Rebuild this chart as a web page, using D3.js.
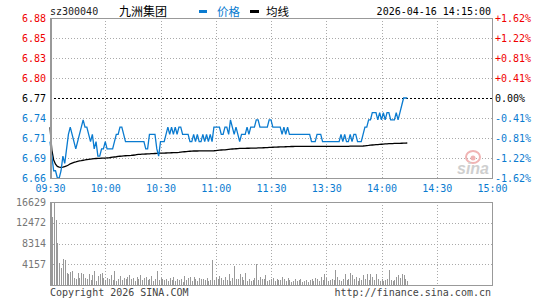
<!DOCTYPE html>
<html><head><meta charset="utf-8">
<script src="https://cdn.jsdelivr.net/npm/d3@7"></script>
<style>
html,body{margin:0;padding:0;background:#fff;}
svg{display:block;}
text{font-family:"DejaVu Sans Mono","Liberation Mono",monospace;font-size:10px;}
</style></head><body>
<svg id="c" width="545" height="300"></svg>
<script>
const symbol = "sz300040";
const stockName = "九洲集团";
const timestamp = "2026-04-16 14:15:00";
const prevClose = 6.77;
const priceSpan = 0.11;
const legendLabels = ["价格", "均线"];
const timeLabels = ["09:30","10:00","10:30","11:00","11:30","13:30","14:00","14:30","15:00"];
const priceLabels = ["6.88","6.85","6.83","6.80","6.77","6.74","6.71","6.69","6.66"];
const pctLabels = ["+1.62%","+1.22%","+0.81%","+0.41%","0.00%","-0.41%","-0.81%","-1.22%","-1.62%"];
const volTicks = [16629, 12472, 8314, 4157];

const price = [
6.71,6.69,6.67,6.67,6.66,6.66,6.67,6.69,6.68,6.70,
6.72,6.73,6.72,6.71,6.70,6.71,6.72,6.73,6.74,6.73,
6.73,6.72,6.71,6.72,6.70,6.71,6.69,6.69,6.70,6.70,
6.71,6.70,6.70,6.70,6.70,6.71,6.72,6.72,6.73,6.73,
6.72,6.71,6.71,6.71,6.71,6.71,6.71,6.71,6.71,6.71,
6.71,6.71,6.70,6.70,6.72,6.72,6.72,6.72,6.70,6.69,
6.71,6.71,6.71,6.72,6.73,6.72,6.73,6.72,6.73,6.72,
6.73,6.73,6.72,6.72,6.72,6.72,6.71,6.71,6.72,6.71,
6.72,6.71,6.71,6.72,6.71,6.72,6.71,6.72,6.71,6.73,
6.73,6.73,6.73,6.72,6.72,6.73,6.73,6.72,6.74,6.73,
6.72,6.73,6.72,6.71,6.72,6.72,6.72,6.73,6.72,6.73,
6.73,6.73,6.74,6.74,6.73,6.73,6.73,6.73,6.73,6.74,
6.74,6.73,6.73,6.73,6.73,6.73,6.72,6.73,6.72,6.73,
6.72,6.72,6.72,6.72,6.72,6.72,6.72,6.72,6.72,6.72,
6.72,6.72,6.71,6.71,6.71,6.72,6.72,6.72,6.71,6.71,
6.71,6.71,6.71,6.71,6.71,6.71,6.71,6.71,6.72,6.71,
6.72,6.71,6.71,6.72,6.71,6.72,6.72,6.71,6.71,6.71,
6.72,6.73,6.73,6.74,6.74,6.75,6.75,6.75,6.74,6.75,
6.74,6.75,6.74,6.75,6.75,6.74,6.74,6.74,6.75,6.74,
6.75,6.76,6.77,6.77,6.77
];

const avgPrice = [
6.7297,6.6985,6.6848,6.6790,6.6760,6.6750,6.6747,6.6750,6.6758,6.6765,
6.6778,6.6795,6.6805,6.6815,6.6822,6.6830,6.6834,6.6838,6.6844,6.6848,
6.6853,6.6857,6.6860,6.6863,6.6866,6.6868,6.6869,6.6870,6.6872,6.6873,
6.6874,6.6876,6.6878,6.6882,6.6886,6.6889,6.6892,6.6896,6.6899,6.6902,
6.6904,6.6906,6.6907,6.6908,6.6910,6.6913,6.6916,6.6920,6.6924,6.6926,
6.6928,6.6929,6.6930,6.6931,6.6932,6.6934,6.6935,6.6937,6.6938,6.6940,
6.6941,6.6942,6.6943,6.6944,6.6945,6.6946,6.6947,6.6948,6.6948,6.6950,
6.6952,6.6955,6.6958,6.6961,6.6964,6.6966,6.6968,6.6970,6.6971,6.6971,
6.6971,6.6972,6.6972,6.6972,6.6972,6.6973,6.6973,6.6973,6.6974,6.6975,
6.6977,6.6980,6.6983,6.6985,6.6986,6.6988,6.6991,6.6994,6.6997,6.6999,
6.7000,6.7002,6.7004,6.7006,6.7007,6.7008,6.7008,6.7009,6.7009,6.7010,
6.7010,6.7011,6.7012,6.7013,6.7014,6.7015,6.7016,6.7017,6.7019,6.7021,
6.7022,6.7023,6.7024,6.7025,6.7026,6.7027,6.7028,6.7029,6.7030,6.7031,
6.7032,6.7033,6.7033,6.7034,6.7034,6.7034,6.7035,6.7035,6.7035,6.7035,
6.7035,6.7035,6.7035,6.7035,6.7036,6.7036,6.7036,6.7036,6.7036,6.7036,
6.7036,6.7036,6.7036,6.7036,6.7036,6.7036,6.7036,6.7036,6.7036,6.7036,
6.7036,6.7036,6.7036,6.7037,6.7037,6.7037,6.7037,6.7038,6.7038,6.7039,
6.7040,6.7042,6.7045,6.7048,6.7052,6.7054,6.7056,6.7058,6.7060,6.7062,
6.7064,6.7066,6.7068,6.7070,6.7072,6.7073,6.7074,6.7075,6.7076,6.7076,
6.7077,6.7078,6.7079,6.7080,6.7081
];

const volume = [
1600,13600,16500,13000,8500,4400,3500,5300,5000,2400,
2200,2600,2800,1400,1200,2500,1500,2400,2200,1500,
1300,2300,1100,2100,2900,900,1800,2200,2400,1500,
1000,1400,1200,2000,1100,2800,900,1300,1900,1000,
1400,1200,1700,2000,1300,1500,900,1600,1200,2100,
1100,1400,1700,1000,1300,1900,800,1200,2800,1000,
1500,1200,1000,1300,800,1400,1100,1600,900,1200,
1000,1300,700,1800,1100,1400,1600,900,1700,1200,
800,1400,1300,1200,1000,1500,900,1100,5000,1000,
1600,1200,1900,1400,1000,1600,1100,2200,900,1400,
3800,1300,1200,2200,1600,1000,2400,800,1200,900,
1100,1400,4200,1000,1700,1200,1300,2000,900,1000,
1200,1500,900,1300,1100,1000,1700,1200,900,1400,
1100,700,900,1200,800,1000,1300,700,900,1100,
600,1000,1300,800,1500,1200,900,1600,1000,2200,
1400,900,1100,1300,1000,3000,1600,1100,800,1300,
2200,1000,1300,2500,2000,1200,1700,900,1500,1100,
2000,1300,2200,1100,2200,1700,1000,2200,1300,900,
1200,800,1000,1300,3000,1000,900,1100,1600,2100,
1500,2200,2000,1200,900
];

const BLUE = "#0a7bd0", RED = "#f00000", GRID = "#aaaaaa", BORDER = "#999999";
const L = 50, R = 492, T = 18, B = 178, VT = 202, VB = 285;

const svg = d3.select("#c");
const x = d3.scaleLinear().domain([0, 240]).range([L, R]);
const y = d3.scaleLinear().domain([prevClose - priceSpan, prevClose + priceSpan]).range([B, T]);
const yv = d3.scaleLinear().domain([0, volTicks[0]]).range([VB, VT]);
const px = v => Math.round(v) + 0.5;

const priceTicks = priceLabels.map((_, i) => y.domain()[1] - i * (2 * priceSpan) / (priceLabels.length - 1));
const timeTicks = timeLabels.map((_, i) => i * 30);

// price grid
const g = svg.append("g").attr("shape-rendering", "crispEdges");
priceTicks.forEach((v, i) => {
  if (i === 0 || i === priceTicks.length - 1) return;
  g.append("line").attr("x1", L).attr("x2", R).attr("y1", px(y(v))).attr("y2", px(y(v)))
    .attr("stroke", i === 4 ? "#000" : GRID).attr("stroke-dasharray", i === 4 ? "2,2" : "1,2");
});
timeTicks.forEach((t, i) => {
  if (i === 0 || i === timeTicks.length - 1) return;
  g.append("line").attr("x1", px(x(t))).attr("x2", px(x(t))).attr("y1", T).attr("y2", B)
    .attr("stroke", GRID).attr("stroke-dasharray", "1,2");
  g.append("line").attr("x1", px(x(t))).attr("x2", px(x(t))).attr("y1", VT).attr("y2", VB)
    .attr("stroke", GRID).attr("stroke-dasharray", "1,2");
});
volTicks.forEach((v, i) => {
  if (i === 0) return;
  g.append("line").attr("x1", L).attr("x2", R).attr("y1", px(yv(v))).attr("y2", px(yv(v)))
    .attr("stroke", GRID).attr("stroke-dasharray", "1,2");
});

// watermark
const wm = svg.append("g");
wm.append("ellipse").attr("cx", 473).attr("cy", 157).attr("rx", 7).attr("ry", 6)
  .attr("fill", "none").attr("stroke", "#f0b4b4").attr("stroke-width", 2);
wm.append("circle").attr("cx", 473).attr("cy", 158).attr("r", 2.5).attr("fill", "#f0b4b4");
wm.append("text").attr("x", 457).attr("y", 174).text("sina")
  .style("font-family", "'Liberation Sans',Arial,sans-serif").style("font-size", "16px")
  .style("font-weight", "bold").style("font-style", "italic").attr("fill", "#cfcfcf");

// volume bars
svg.append("g").attr("shape-rendering", "crispEdges").selectAll("rect").data(volume).join("rect")
  .attr("x", (d, i) => Math.round(x(i))).attr("width", 1)
  .attr("y", d => yv(d)).attr("height", d => VB - yv(d)).attr("fill", "#999");

// lines
svg.append("path").datum(avgPrice).attr("fill", "none").attr("stroke", "#000").attr("stroke-width", 1.3)
  .attr("d", d3.line().x((d, i) => x(i)).y(d => y(d)));
svg.append("path").datum(price).attr("fill", "none").attr("stroke", BLUE).attr("stroke-width", 1.3)
  .attr("d", d3.line().x((d, i) => x(i)).y(d => y(d)));

// borders
const bd = svg.append("g").attr("shape-rendering", "crispEdges").attr("fill", "none").attr("stroke", BORDER);
bd.append("rect").attr("x", L + 0.5).attr("y", T + 0.5).attr("width", R - L).attr("height", B - T);
bd.append("rect").attr("x", L + 0.5).attr("y", VT + 0.5).attr("width", R - L).attr("height", VB - VT);
bd.append("line").attr("x1", L + 1.5).attr("x2", L + 1.5).attr("y1", T).attr("y2", B + 1);
bd.append("line").attr("x1", L + 1.5).attr("x2", L + 1.5).attr("y1", VT).attr("y2", VB + 1);

// axis labels
const colorFor = i => i < 4 ? RED : (i === 4 ? "#000" : BLUE);
const axL = svg.append("g").attr("transform", `translate(${L - 4},0)`)
  .call(d3.axisLeft(y).tickValues(priceTicks).tickFormat((d, i) => priceLabels[i]).tickSize(0).tickPadding(0));
axL.select(".domain").remove();
axL.selectAll("text").attr("fill", (d, i) => colorFor(i)).style("font-size", "10px").style("font-family", "'DejaVu Sans Mono',monospace");

const axR = svg.append("g").attr("transform", `translate(${R + 3},0)`)
  .call(d3.axisRight(y).tickValues(priceTicks).tickFormat((d, i) => pctLabels[i]).tickSize(0).tickPadding(0));
axR.select(".domain").remove();
axR.selectAll("text").attr("fill", (d, i) => colorFor(i)).style("font-size", "10px").style("font-family", "'DejaVu Sans Mono',monospace");

const axB = svg.append("g").attr("transform", `translate(0,${B + 7})`)
  .call(d3.axisBottom(x).tickValues(timeTicks).tickFormat((d, i) => timeLabels[i]).tickSize(0).tickPadding(0));
axB.select(".domain").remove();
axB.selectAll("text").attr("fill", BLUE).style("font-size", "10px").style("font-family", "'DejaVu Sans Mono',monospace");

const axV = svg.append("g").attr("transform", `translate(${L - 4},0)`)
  .call(d3.axisLeft(yv).tickValues(volTicks).tickFormat(d3.format("d")).tickSize(0).tickPadding(0));
axV.select(".domain").remove();
axV.selectAll("text").attr("fill", "#777").style("font-size", "10px").style("font-family", "'DejaVu Sans Mono',monospace");

// header
svg.append("text").attr("x", L).attr("y", 15).text(symbol).attr("fill", "#222");
svg.append("text").attr("x", 119).attr("y", 16).text(stockName)
  .style("font-family", "'Noto Sans CJK SC',sans-serif").style("font-size", "12px").attr("fill", "#000");
svg.append("rect").attr("x", 199).attr("y", 10).attr("width", 8).attr("height", 3).attr("fill", BLUE);
svg.append("text").attr("x", 217).attr("y", 16).text(legendLabels[0])
  .style("font-family", "'Noto Sans CJK SC',sans-serif").style("font-size", "11.5px").attr("fill", BLUE);
svg.append("rect").attr("x", 250).attr("y", 10).attr("width", 9).attr("height", 3).attr("fill", "#000");
svg.append("text").attr("x", 266).attr("y", 16).text(legendLabels[1])
  .style("font-family", "'Noto Sans CJK SC',sans-serif").style("font-size", "11.5px").attr("fill", "#000");
svg.append("text").attr("x", 491).attr("y", 15).attr("text-anchor", "end").text(timestamp).attr("fill", "#000");

// footer
svg.append("text").attr("x", L).attr("y", 296).text("Copyright 2026 SINA.COM").attr("fill", "#444");
svg.append("text").attr("x", 491).attr("y", 296).attr("text-anchor", "end").text("http://finance.sina.com.cn").attr("fill", "#444");
</script>
</body></html>
